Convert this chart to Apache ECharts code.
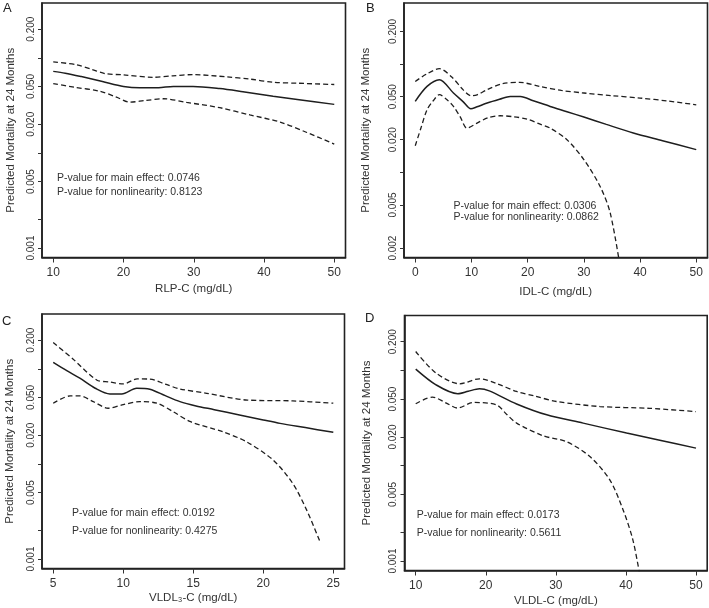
<!DOCTYPE html>
<html>
<head>
<meta charset="utf-8">
<script src="https://cdn.jsdelivr.net/npm/echarts@6/dist/echarts.min.js"></script>
<style>html,body{margin:0;padding:0;background:#fff}#c{width:709px;height:608px}</style>
</head>
<body>
<div id="c"></div>
<script>
// ---------- Panel A : RLP-C ----------
const A_fitX = [10, 11.7, 14, 17, 20, 22.3, 25, 27.1, 29.9, 33.7, 37, 41.3, 45, 50];
const A_fitY = [0.072, 0.069, 0.0635, 0.0564, 0.050, 0.0483, 0.0485, 0.050, 0.050, 0.0475, 0.044, 0.0395, 0.0363, 0.0324];
const A_upX = [10, 13.3, 15.5, 17.4, 20, 24.2, 27, 29.9, 34.7, 38, 41.3, 45, 50];
const A_upY = [0.0904, 0.0847, 0.0754, 0.0682, 0.0662, 0.0624, 0.0646, 0.0666, 0.063, 0.0597, 0.0553, 0.054, 0.0524];
const A_loX = [10, 13, 16.6, 19, 20.9, 23, 25.7, 29, 33.7, 38, 42.3, 46.1, 50];
const A_loY = [0.0536, 0.049, 0.0446, 0.0386, 0.0342, 0.0355, 0.0371, 0.034, 0.0299, 0.0251, 0.0211, 0.0164, 0.0124];

// ---------- Panel B : IDL-C ----------
const B_fitX = [0, 2.1, 4.3, 6.8, 8.5, 9.9, 11, 12.8, 15, 16.9, 18.7, 21, 24, 27, 30, 34, 38.8, 44, 50];
const B_fitY = [0.0452, 0.0621, 0.0716, 0.054, 0.045, 0.0386, 0.0403, 0.0436, 0.0472, 0.0502, 0.050, 0.0458, 0.0406, 0.0363, 0.0324, 0.0277, 0.0231, 0.0196, 0.0162];
const B_upX = [0, 2, 4.3, 6.5, 8.5, 9.9, 11, 12.8, 15.5, 18.6, 22.2, 26, 30, 35, 40, 45, 50];
const B_upY = [0.069, 0.0807, 0.0905, 0.0757, 0.058, 0.0509, 0.052, 0.058, 0.0658, 0.0676, 0.062, 0.057, 0.054, 0.051, 0.0485, 0.0455, 0.042];
const B_loX = [0, 1, 2.1, 3.2, 4.3, 5.5, 6.8, 8, 9.2, 11, 13, 15.1, 17.5, 19.9, 22, 24, 27, 30, 32.9, 34.7, 36.5];
const B_loY = [0.0176, 0.0255, 0.0378, 0.0458, 0.0521, 0.0475, 0.0406, 0.0325, 0.0256, 0.0285, 0.032, 0.0333, 0.0326, 0.031, 0.0281, 0.0256, 0.020, 0.0131, 0.0074, 0.0042, 0.0013];

// ---------- Panel C : VLDL3-C ----------
const C_fitX = [5, 6, 6.9, 8, 9.05, 9.9, 10.96, 11.9, 13, 14.05, 15.2, 16.5, 18.3, 20, 21.2, 23, 25];
const C_fitY = [0.117, 0.095, 0.0796, 0.0625, 0.0544, 0.0544, 0.0625, 0.061, 0.0522, 0.0452, 0.0407, 0.0372, 0.0327, 0.029, 0.0267, 0.0241, 0.0215];
const C_upX = [5, 6.43, 8.1, 9, 10, 11, 11.9, 13, 14.05, 15.96, 18.8, 22.1, 25];
const C_upY = [0.189, 0.126, 0.0764, 0.0728, 0.0693, 0.0783, 0.078, 0.069, 0.0614, 0.0553, 0.047, 0.046, 0.0435];
const C_loX = [5, 6.2, 6.9, 7.86, 8.93, 10, 11.19, 12.4, 13.57, 14.8, 17.1, 18.8, 20.7, 22.1, 23.1, 24.05];
const C_loY = [0.0435, 0.0519, 0.052, 0.0452, 0.0385, 0.042, 0.0452, 0.0435, 0.0354, 0.0278, 0.0218, 0.0171, 0.011, 0.00625, 0.00327, 0.00152];

// ---------- Panel D : VLDL-C ----------
const D_fitX = [10, 12.9, 16, 17.5, 19.1, 20.5, 24.4, 28.7, 33.9, 40.1, 45, 50];
const D_fitY = [0.1033, 0.0706, 0.0569, 0.0604, 0.0641, 0.061, 0.0445, 0.0342, 0.028, 0.022, 0.0184, 0.0153];
const D_upX = [10, 12.9, 16.3, 19.1, 21.5, 24.4, 27, 30.1, 36.3, 43.4, 50];
const D_upY = [0.158, 0.0938, 0.0724, 0.0817, 0.073, 0.0601, 0.0538, 0.0472, 0.0418, 0.040, 0.037];
const D_loX = [10, 12.4, 14.3, 16, 18.2, 21.5, 23, 24.4, 28.2, 31.5, 34.85, 37.7, 39.6, 41, 42];
const D_loY = [0.0447, 0.0525, 0.0457, 0.0403, 0.0461, 0.0436, 0.0345, 0.028, 0.0206, 0.0179, 0.0125, 0.0071, 0.00344, 0.00166, 0.0007];

// ---------- ticks & texts ----------
const xTicksA = [10, 20, 30, 40, 50];
const xTicksB = [0, 10, 20, 30, 40, 50];
const xTicksC = [5, 10, 15, 20, 25];
const xTicksD = [10, 20, 30, 40, 50];
const yTicks = [0.001, 0.002, 0.005, 0.01, 0.02, 0.05, 0.1, 0.2];
const yLabelsACD = [0.001, 0.005, 0.02, 0.05, 0.2];
const yLabelsB = [0.002, 0.005, 0.02, 0.05, 0.2];
const xTitles = ['RLP-C (mg/dL)', 'IDL-C (mg/dL)', 'VLDL\u2083-C (mg/dL)', 'VLDL-C (mg/dL)'];
const yTitle = 'Predicted Mortality at 24 Months';
const panelLetters = ['A', 'B', 'C', 'D'];
const pMain = ['P-value for main effect: 0.0746', 'P-value for main effect: 0.0306', 'P-value for main effect: 0.0192', 'P-value for main effect: 0.0173'];
const pNonlin = ['P-value for nonlinearity: 0.8123', 'P-value for nonlinearity: 0.0862', 'P-value for nonlinearity: 0.4275', 'P-value for nonlinearity: 0.5611'];

const FONT = '"Liberation Sans", Arial, sans-serif';
const INK = '#1e1e1e';

const panels = [
  { grid: {left: 42, top: 3, width: 303.5, height: 254.5}, xr: [8.4, 51.6], yr: [0.000796, 0.3768], xt: xTicksA, yl: yLabelsACD,
    xGap: 25, yGap: 25, curves: [[A_fitX, A_fitY], [A_upX, A_upY], [A_loX, A_loY]],
    letter: [3, 2], p: [57, 177.7, 192.3] },
  { grid: {left: 404, top: 3, width: 303.5, height: 254.5}, xr: [-2, 52], yr: [0.001637, 0.3656], xt: xTicksB, yl: yLabelsB,
    xGap: 28, yGap: 32, curves: [[B_fitX, B_fitY], [B_upX, B_upY], [B_loX, B_loY]],
    letter: [366, 2], p: [453.5, 205.7, 216.7] },
  { grid: {left: 42, top: 314, width: 302.5, height: 254.5}, xr: [4.2, 25.8], yr: [0.000796, 0.3768], xt: xTicksC, yl: yLabelsACD,
    xGap: 23, yGap: 26, curves: [[C_fitX, C_fitY], [C_upX, C_upY], [C_loX, C_loY]],
    letter: [2, 315], p: [72, 513.3, 531] },
  { grid: {left: 404.5, top: 315.5, width: 302.7, height: 255}, xr: [8.4, 51.6], yr: [0.000796, 0.3768], xt: xTicksD, yl: yLabelsACD,
    xGap: 24, yGap: 32, curves: [[D_fitX, D_fitY], [D_upX, D_upY], [D_loX, D_loY]],
    letter: [365, 312], p: [416.7, 515, 532.7] }
];

const zip = (xs, ys) => xs.map((x, i) => [x, ys[i]]);

const grid = [], xAxis = [], yAxis = [], series = [], graphic = [];
panels.forEach((p, k) => {
  grid.push(Object.assign({ show: true, borderColor: '#222', borderWidth: 1.6, backgroundColor: 'transparent', containLabel: false }, p.grid));
  xAxis.push({
    type: 'value', gridIndex: k, min: p.xr[0], max: p.xr[1],
    axisLine: { show: true, onZero: false, lineStyle: { color: '#222', width: 1.6 } },
    axisTick: { show: true, length: 5, customValues: p.xt, lineStyle: { color: '#333', width: 1 } },
    axisLabel: { customValues: p.xt, fontSize: 12, color: '#333', margin: 9, fontFamily: FONT },
    splitLine: { show: false },
    name: xTitles[k], nameLocation: 'middle', nameGap: p.xGap,
    nameTextStyle: { fontSize: 11.5, color: '#333', fontFamily: FONT }
  });
  yAxis.push({
    type: 'log', logBase: 10, gridIndex: k, min: p.yr[0], max: p.yr[1],
    axisLine: { show: true, onZero: false, lineStyle: { color: '#222', width: 1.6 } },
    axisTick: { show: true, length: 4, customValues: yTicks, lineStyle: { color: '#333', width: 1 } },
    axisLabel: { customValues: p.yl, rotate: 90, fontSize: 10, color: '#333', margin: 6, fontFamily: FONT,
      formatter: v => Number(v).toFixed(3) },
    splitLine: { show: false }, minorTick: { show: false },
    name: yTitle, nameLocation: 'middle', nameGap: p.yGap, nameRotate: 90,
    nameTextStyle: { fontSize: 11.5, color: '#333', fontFamily: FONT }
  });
  p.curves.forEach((c, j) => {
    series.push({
      type: 'line', xAxisIndex: k, yAxisIndex: k, data: zip(c[0], c[1]),
      showSymbol: false, symbol: 'none', smooth: 0.3, clip: true, silent: true,
      lineStyle: { color: INK, width: j === 0 ? 1.5 : 1.3, type: j === 0 ? 'solid' : [5, 3] }
    });
  });
  graphic.push({ type: 'text', left: p.letter[0], top: p.letter[1],
    style: { text: panelLetters[k], fontSize: 13, fill: '#222', fontFamily: FONT } });
  graphic.push({ type: 'text', x: p.p[0], y: p.p[1],
    style: { text: pMain[k], fontSize: 10.5, fill: '#333', fontFamily: FONT, verticalAlign: 'middle' } });
  graphic.push({ type: 'text', x: p.p[0], y: p.p[2],
    style: { text: pNonlin[k], fontSize: 10.5, fill: '#333', fontFamily: FONT, verticalAlign: 'middle' } });
});

const chart = echarts.init(document.getElementById('c'), null, { renderer: 'canvas' });
chart.setOption({ animation: false, backgroundColor: '#fff', grid, xAxis, yAxis, series, graphic });
</script>
</body>
</html>
